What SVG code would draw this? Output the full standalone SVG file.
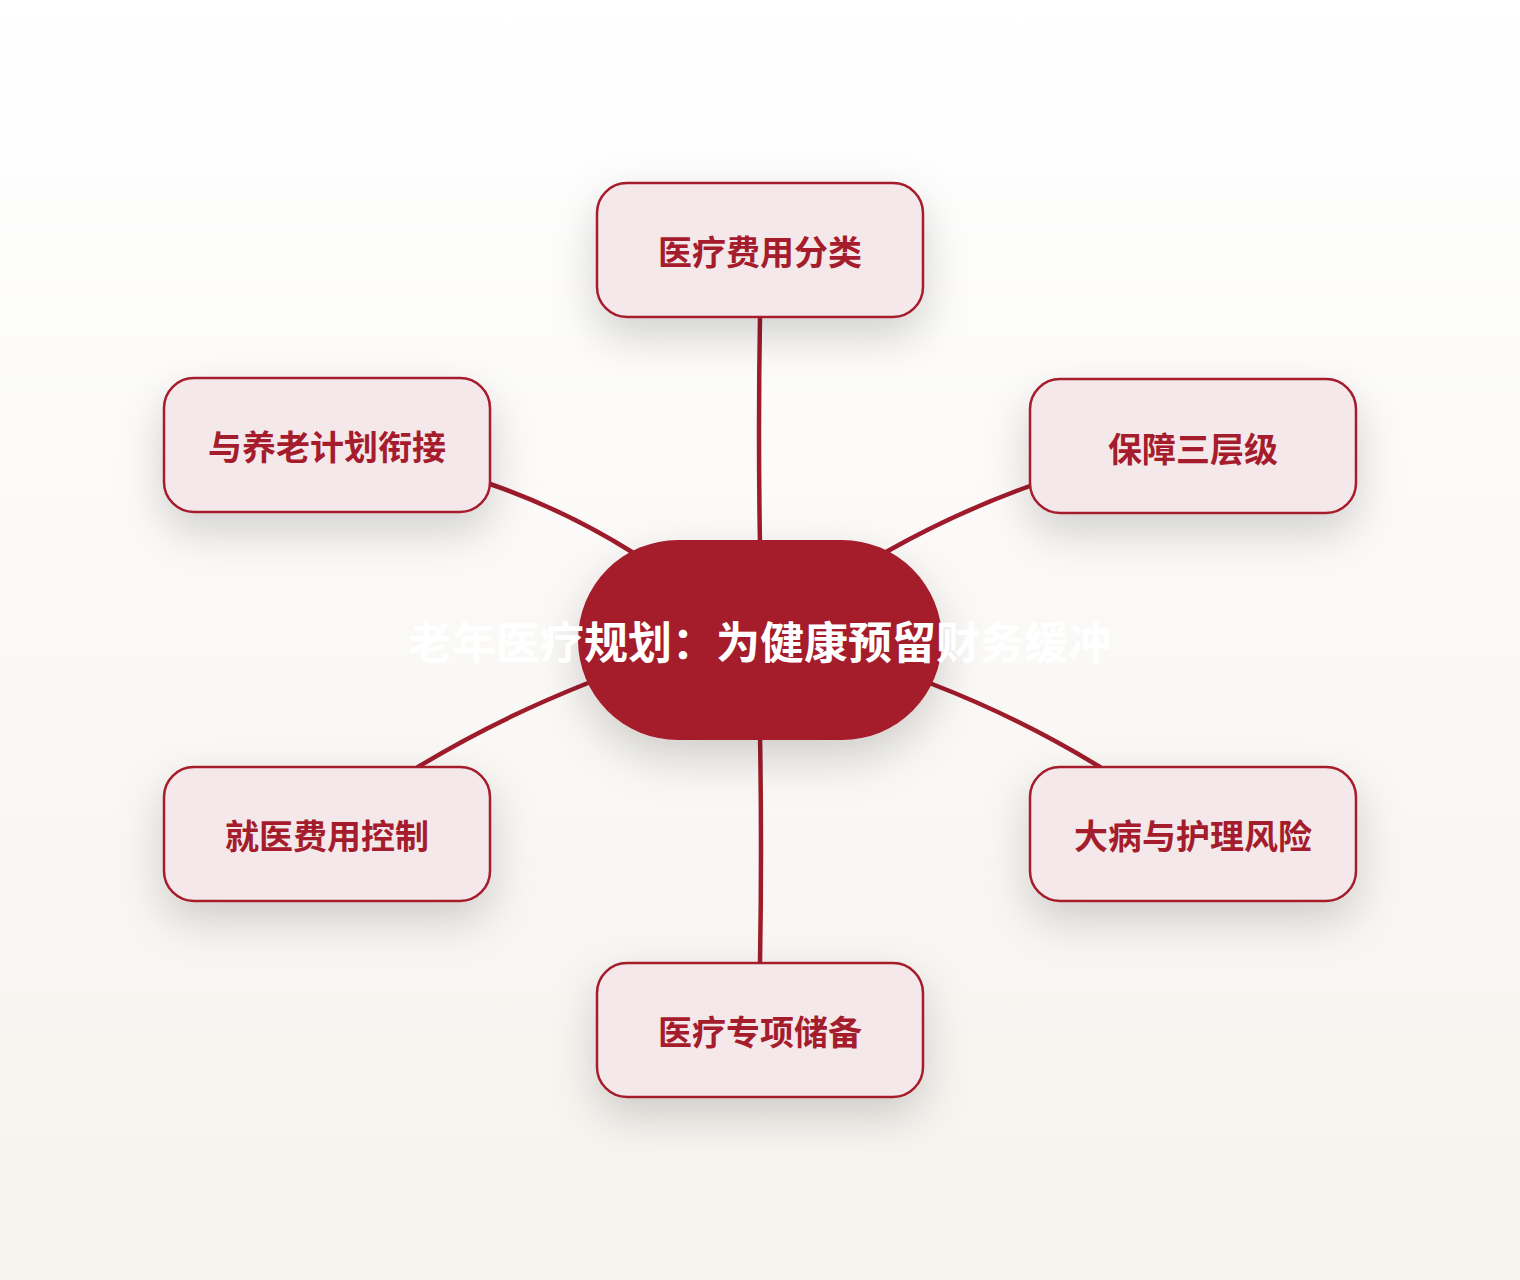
<svg xmlns="http://www.w3.org/2000/svg" width="1520" height="1280" viewBox="0 0 1520 1280">
<defs>
<linearGradient id="bg" x1="0" y1="0" x2="0" y2="1">
<stop offset="0" stop-color="#ffffff"/>
<stop offset="1" stop-color="#f6f3ee"/>
</linearGradient>
<filter id="sh" x="-40%" y="-40%" width="180%" height="200%">
<feDropShadow dx="0" dy="18" stdDeviation="22" flood-color="#000000" flood-opacity="0.17"/>
</filter>
<style>
.box{fill:#f4e8ea;stroke:#a51c2c;stroke-width:2.5}
.lbl{font-family:"Noto Sans CJK SC","Noto Sans",sans-serif;font-weight:700;font-size:34px;fill:#a51c2c;text-anchor:middle}
.edge{fill:none;stroke:#9e1b2b;stroke-width:4.5;stroke-linecap:round}
.hub{fill:#a51b2a}
.hubt{font-family:"Noto Sans CJK SC","Noto Sans",sans-serif;font-weight:700;font-size:44px;fill:#ffffff;text-anchor:middle}
</style>
</defs>
<rect x="0" y="0" width="1520" height="1280" fill="url(#bg)"/>
<g id="connectors">
<path class="edge" d="M760,317 Q758,430 760,545"/>
<path class="edge" d="M490,484 Q565,510 632,552"/>
<path class="edge" d="M1030,486 Q955,513 886,552"/>
<path class="edge" d="M588,683 Q495,720 418,767"/>
<path class="edge" d="M932,684 Q1020,718 1100,767"/>
<path class="edge" d="M760,735 Q762,850 760,963"/>
</g>
<g id="center">
<rect class="hub" x="578" y="540" width="364" height="200" rx="100" ry="100" filter="url(#sh)"/>
<text class="hubt" x="760" y="659">老年医疗规划：为健康预留财务缓冲</text>
</g>
<g id="n1">
<rect class="box" x="597" y="183" width="326" height="134" rx="30" filter="url(#sh)"/>
<text class="lbl" x="760" y="265">医疗费用分类</text>
</g>
<g id="n2">
<rect class="box" x="1030" y="379" width="326" height="134" rx="30" filter="url(#sh)"/>
<text class="lbl" x="1193" y="462">保障三层级</text>
</g>
<g id="n3">
<rect class="box" x="1030" y="767" width="326" height="134" rx="30" filter="url(#sh)"/>
<text class="lbl" x="1193" y="849">大病与护理风险</text>
</g>
<g id="n4">
<rect class="box" x="597" y="963" width="326" height="134" rx="30" filter="url(#sh)"/>
<text class="lbl" x="760" y="1045">医疗专项储备</text>
</g>
<g id="n5">
<rect class="box" x="164" y="767" width="326" height="134" rx="30" filter="url(#sh)"/>
<text class="lbl" x="327" y="849">就医费用控制</text>
</g>
<g id="n6">
<rect class="box" x="164" y="378" width="326" height="134" rx="30" filter="url(#sh)"/>
<text class="lbl" x="327" y="460">与养老计划衔接</text>
</g>
</svg>
